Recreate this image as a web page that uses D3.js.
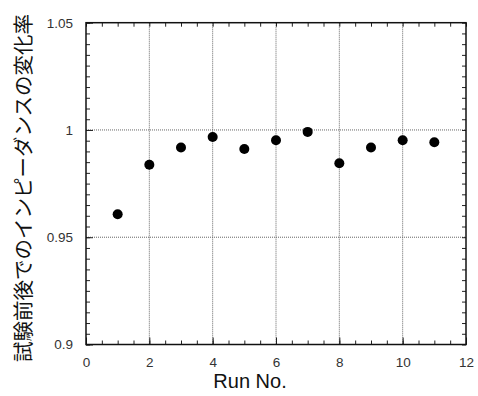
<!DOCTYPE html>
<html>
<head>
<meta charset="utf-8">
<script src="https://cdn.jsdelivr.net/npm/d3@7"></script>
<style>
  body { margin: 0; background: #fff; }
  svg { display: block; }
  .tick text { font-family: "Liberation Sans", Arial, sans-serif; font-size: 13.5px; fill: #333; }
</style>
</head>
<body>
<svg id="chart" width="478" height="396"></svg>
<script>
// run numbers and impedance change ratio (after / before)
const runs = [1, 2, 3, 4, 5, 6, 7, 8, 9, 10, 11];
const ratio = [0.9607, 0.9838, 0.9918, 0.9967, 0.9911, 0.9952, 0.9991, 0.9845, 0.9918, 0.9952, 0.9943];

const xTicks = [0, 2, 4, 6, 8, 10, 12];
const yTicks = [0.9, 0.95, 1, 1.05];
const xTitle = 'Run No.';
const yTitle = '試験前後でのインピーダンスの変化率';

const margin = {top: 22.7, right: 12, bottom: 51.5, left: 86};
const width = 478, height = 396;
const w = width - margin.left - margin.right,
      h = height - margin.top - margin.bottom;

const svg = d3.select('#chart');
const g = svg.append('g')
    .attr('transform', 'translate(' + margin.left + ',' + margin.top + ')');

const x = d3.scaleLinear().domain([0, 12]).range([0, w]);
const y = d3.scaleLinear().domain([0.9, 1.05]).range([h, 0]);

// dotted grid at major ticks
g.append('g').selectAll('line')
    .data(xTicks.slice(1, -1))
    .enter().append('line')
    .attr('x1', d => x(d)).attr('x2', d => x(d))
    .attr('y1', 0).attr('y2', h)
    .attr('stroke', '#666').attr('stroke-width', 1)
    .attr('stroke-dasharray', '1,1');
g.append('g').selectAll('line')
    .data(yTicks.slice(1, -1))
    .enter().append('line')
    .attr('x1', 0).attr('x2', w)
    .attr('y1', d => y(d)).attr('y2', d => y(d))
    .attr('stroke', '#666').attr('stroke-width', 1)
    .attr('stroke-dasharray', '1,1');

// minor ticks, inward on all four sides
const xMinor = d3.range(0, 12.01, 0.5);
const yMinor = d3.range(0, 31).map(i => 0.9 + i * 0.005);

function minorAxis(axis, tickVals, transform) {
  const a = g.append('g')
      .attr('transform', transform)
      .call(axis.tickValues(tickVals).tickSize(-4).tickFormat(''));
  a.select('.domain').remove();
  a.selectAll('.tick line').attr('stroke', '#222');
}
minorAxis(d3.axisBottom(x), xMinor, 'translate(0,' + h + ')');
minorAxis(d3.axisTop(x), xMinor, 'translate(0,0)');
minorAxis(d3.axisLeft(y), yMinor, 'translate(0,0)');
minorAxis(d3.axisRight(y), yMinor, 'translate(' + w + ',0)');

// major tick labels
const xAxis = g.append('g')
    .attr('transform', 'translate(0,' + h + ')')
    .call(d3.axisBottom(x).tickValues(xTicks).tickSize(-7).tickPadding(13).tickFormat(d3.format('d')));
xAxis.select('.domain').remove();
xAxis.selectAll('.tick line').attr('stroke', '#222');

const yAxis = g.append('g')
    .call(d3.axisLeft(y).tickValues(yTicks).tickSize(-7).tickPadding(13).tickFormat(d => String(d)));
yAxis.select('.domain').remove();
yAxis.selectAll('.tick line').attr('stroke', '#222');

// frame
g.append('rect')
    .attr('x', 0).attr('y', 0).attr('width', w).attr('height', h)
    .attr('fill', 'none').attr('stroke', '#111').attr('stroke-width', 1.5);

// points
g.append('g').selectAll('circle')
    .data(runs)
    .enter().append('circle')
    .attr('cx', d => x(d))
    .attr('cy', (d, i) => y(ratio[i]))
    .attr('r', 5)
    .attr('fill', '#000');

// titles
svg.append('text')
    .attr('x', 250).attr('y', 388)
    .attr('text-anchor', 'middle')
    .style('font-family', '"Liberation Sans", Arial, sans-serif')
    .style('font-size', '20px')
    .attr('fill', '#111')
    .text(xTitle);

svg.append('text')
    .attr('transform', 'translate(31,' + 188 + ') rotate(-90)')
    .attr('text-anchor', 'middle')
    .style('font-family', '"Noto Sans CJK JP", sans-serif')
    .style('font-size', '20.5px')
    .attr('fill', '#111')
    .text(yTitle);
</script>
</body>
</html>
